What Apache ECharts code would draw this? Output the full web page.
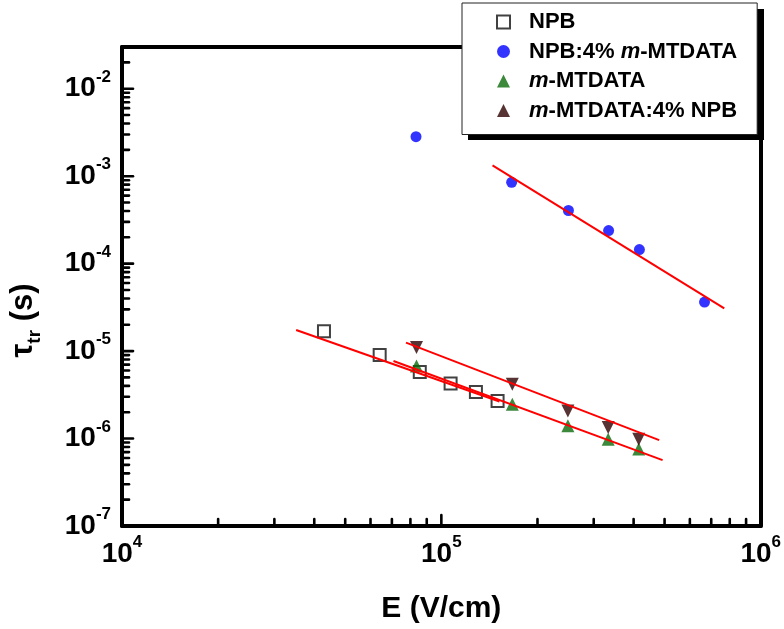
<!DOCTYPE html>
<html><head><meta charset="utf-8">
<script src="https://cdn.jsdelivr.net/npm/echarts@6/dist/echarts.min.js"></script>
<style>html,body{margin:0;padding:0;background:#fff}#c{width:784px;height:629px}</style>
</head><body><div id="c"></div>
<script>
// ---- data ----
const seriesNames = ['NPB', 'NPB:4% m-MTDATA', 'm-MTDATA', 'm-MTDATA:4% NPB'];
const npbE = [4.29e4, 6.41e4, 8.56e4, 1.069e5, 1.283e5, 1.5e5];
const npbTau = [1.69e-5, 9.03e-6, 5.77e-6, 4.26e-6, 3.41e-6, 2.69e-6];
const npbMtE = [8.33e4, 1.66e5, 2.5e5, 3.34e5, 4.17e5, 6.67e5];
const npbMtTau = [2.83e-3, 8.51e-4, 4.05e-4, 2.39e-4, 1.45e-4, 3.64e-5];
const mtE = [8.36e4, 1.668e5, 2.49e5, 3.33e5, 4.15e5];
const mtTau = [6.76e-6, 2.47e-6, 1.40e-6, 9.84e-7, 7.57e-7];
const mtNpbE = [8.36e4, 1.668e5, 2.49e5, 3.33e5, 4.15e5];
const mtNpbTau = [1.096e-5, 4.18e-6, 2.07e-6, 1.34e-6, 9.84e-7];
// linear fits (log-log), end points
const fitNpbE = [3.51e4, 1.52e5];
const fitNpbTau = [1.74e-5, 2.65e-6];
const fitNpbMtE = [1.446e5, 7.69e5];
const fitNpbMtTau = [1.33e-3, 3.08e-5];
const fitMtE = [7.08e4, 4.93e5];
const fitMtTau = [7.71e-6, 5.67e-7];
const fitMtNpbE = [7.75e4, 4.81e5];
const fitMtNpbTau = [1.25e-5, 9.6e-7];
// axes
const xMin = 1e4, xMax = 1e6;
const yMin = 1e-7, yMax = 3e-2;
const minorMult = [2, 3, 4, 5, 6, 7, 8, 9];
const xDecades = [1e4, 1e5];
const yDecades = [1e-7, 1e-6, 1e-5, 1e-4, 1e-3, 1e-2];

const zip = (a, b) => a.map((v, i) => [v, b[i]]);
const xMinor = [];
xDecades.forEach(d => minorMult.forEach(m => { if (d * m < xMax) xMinor.push(d * m); }));
const yMinor = [];
yDecades.forEach(d => minorMult.forEach(m => { if (d * m < yMax * 0.999) yMinor.push(d * m); }));

const FONT = '"Liberation Sans", Arial, sans-serif';
const supRich = {
  n: { fontSize: 28, fontWeight: 'bold', fontFamily: FONT, color: '#000', lineHeight: 40 },
  p: { fontSize: 17, fontWeight: 'bold', fontFamily: FONT, color: '#000', lineHeight: 18, verticalAlign: 'top' }
};
const powLabel = v => {
  const e = Math.log10(v);
  if (Math.abs(e - Math.round(e)) > 1e-6) return '';
  return '{n|10}{p|' + Math.round(e) + '}';
};
const legendRich = {
  g: { width: 14 },
  i: { fontSize: 22, fontWeight: 'bold', fontStyle: 'italic', fontFamily: FONT, color: '#000' }
};

const chart = echarts.init(document.getElementById('c'), null, { renderer: 'canvas' });
const fitLine = (name, data) => ({
  name: name, type: 'line', data: data, symbol: 'none', silent: true, z: 4,
  lineStyle: { color: '#ff0000', width: 2 }, itemStyle: { color: '#ff0000' }
});
const shadowRect = {
  id: 'legendShadow', type: 'rect', z: 3, silent: true,
  shape: { x: 468, y: 9, width: 296, height: 131 },
  style: { fill: '#000' }
};

// target frame in pixels
const frame = { left: 116, right: 761, top: 47, bottom: 527 };
const gridOpt = { left: 116, right: 23, top: 47, bottom: 102 };

chart.setOption({
  animation: false,
  backgroundColor: '#fff',
  grid: Object.assign({}, gridOpt),
  graphic: [shadowRect],
  legend: {
    data: seriesNames, z: 10,
    orient: 'vertical', left: 462, top: 3,
    padding: [8, 20, 13, 34],
    itemGap: 7.5, itemWidth: 13, itemHeight: 13,
    backgroundColor: '#fff', borderColor: '#222', borderWidth: 1,
    selectedMode: false,
    formatter: n => '{g|}' + n.replace(/m-/g, '{i|m}-'),
    textStyle: {
      fontSize: 22, fontWeight: 'bold', fontFamily: FONT, color: '#000',
      rich: legendRich
    }
  },
  xAxis: [{
    type: 'log', logBase: 10, min: xMin, max: xMax,
    name: 'E (V/cm)', nameLocation: 'middle', nameGap: 68,
    nameTextStyle: { fontSize: 30, fontWeight: 'bold', fontFamily: FONT, color: '#000' },
    axisLine: { show: true, lineStyle: { color: '#000', width: 4 } },
    axisTick: { show: false },
    minorTick: { show: false },
    splitLine: { show: false },
    axisLabel: { margin: 8, formatter: powLabel, rich: supRich }
  }, {
    type: 'log', logBase: 10, min: xMin, max: xMax, position: 'top',
    axisLine: { show: true, lineStyle: { color: '#000', width: 4 } },
    axisTick: { show: false }, axisLabel: { show: false }, splitLine: { show: false }
  }],
  yAxis: [{
    type: 'log', logBase: 10, min: yMin, max: yMax,
    name: '{t|τ}{s|tr}{t| (s)}', nameLocation: 'middle', nameGap: 78,
    nameTextStyle: {
      padding: [0, 68, 0, 0],
      rich: {
        t: { fontSize: 31, fontWeight: 'bold', fontFamily: FONT, color: '#000', lineHeight: 36, verticalAlign: 'top' },
        s: { fontSize: 19, fontWeight: 'bold', fontFamily: FONT, color: '#000', lineHeight: 19, verticalAlign: 'bottom' }
      }
    },
    axisLine: { show: true, lineStyle: { color: '#000', width: 4 } },
    axisTick: { show: false },
    minorTick: { show: false },
    splitLine: { show: false },
    axisLabel: { margin: 11, formatter: powLabel, rich: supRich, showMaxLabel: false }
  }, {
    type: 'log', logBase: 10, min: yMin, max: yMax, position: 'right',
    axisLine: { show: true, lineStyle: { color: '#000', width: 4 } },
    axisTick: { show: false }, axisLabel: { show: false }, splitLine: { show: false }
  }],
  series: [
    fitLine('fitNpb', zip(fitNpbE, fitNpbTau)),
    fitLine('fitNpbMt', zip(fitNpbMtE, fitNpbMtTau)),
    fitLine('fitMt', zip(fitMtE, fitMtTau)),
    fitLine('fitMtNpb', zip(fitMtNpbE, fitMtNpbTau)),
    { name: seriesNames[0], type: 'scatter', data: zip(npbE, npbTau), symbol: 'rect', symbolSize: 12, z: 3,
      itemStyle: { color: 'rgba(255,255,255,0)', borderColor: '#111', borderWidth: 2 } },
    { name: seriesNames[1], type: 'scatter', data: zip(npbMtE, npbMtTau), symbol: 'circle', symbolSize: 11, z: 3,
      itemStyle: { color: '#0000ff' } },
    { name: seriesNames[2], type: 'scatter', data: zip(mtE, mtTau), symbol: 'triangle', symbolSize: 13, z: 3,
      itemStyle: { color: '#0b6b0b' } },
    { name: seriesNames[3], type: 'scatter', data: zip(mtNpbE, mtNpbTau), symbol: 'triangle', symbolRotate: 180, symbolSize: 13, z: 3,
      itemStyle: { color: '#2e0000' } }
  ]
});

const toPx = (x, y) => chart.convertToPixel({ xAxisIndex: 0, yAxisIndex: 0 }, [x, y]);

// nudge the grid so the frame lands on the target pixel edges (v6 may shrink it to fit labels)
try {
  for (let k = 0; k < 3; k++) {
    const p0 = toPx(xMin, yMin), p1 = toPx(xMax, yMax);
    const dl = frame.left - p0[0], dr = p1[0] - frame.right, dt = frame.top - p1[1], db = p0[1] - frame.bottom;
    if (Math.abs(dl) < 0.5 && Math.abs(dr) < 0.5 && Math.abs(dt) < 0.5 && Math.abs(db) < 0.5) break;
    gridOpt.left += dl; gridOpt.right += dr; gridOpt.top += dt; gridOpt.bottom += db;
    chart.setOption({ grid: Object.assign({}, gridOpt) });
  }
} catch (e) { }

// inward axis ticks, placed through the chart's own log scales
const tickEls = [];
const addTick = (pt, dx, dy) => tickEls.push({
  type: 'line', z: 50, silent: true,
  shape: { x1: pt[0], y1: pt[1], x2: pt[0] + dx, y2: pt[1] + dy },
  style: { stroke: '#000', lineWidth: 2.6, lineCap: 'round' }
});
xMinor.forEach(v => addTick(toPx(v, yMin), 0, -7));
[xMin * 10].forEach(v => addTick(toPx(v, yMin), 0, -11));
yMinor.forEach(v => addTick(toPx(xMin, v), 7, 0));
yDecades.forEach(v => addTick(toPx(xMin, v), 11, 0));
chart.setOption({ graphic: [shadowRect].concat(tickEls) }, { replaceMerge: ['graphic'] });
</script></body></html>
